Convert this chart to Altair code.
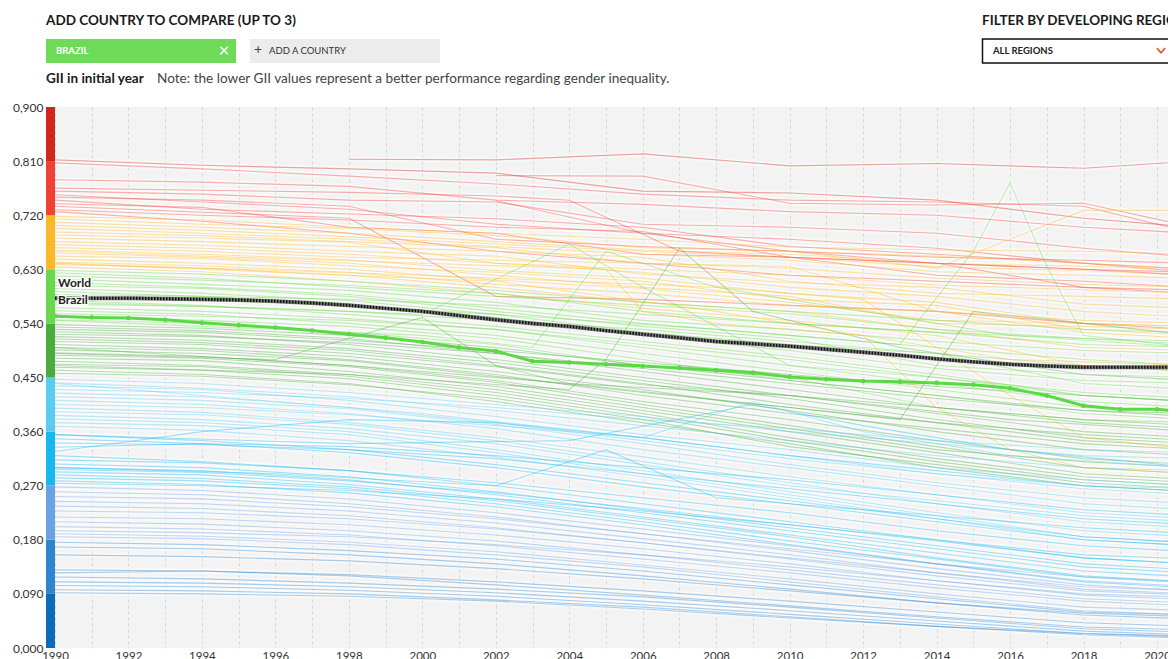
import altair as alt
import pandas as pd

FONT = "Lato"

# ---------------- data ----------------
YEARS = [1990, 1994, 1998, 2002, 2006, 2010, 2014, 2018, 2021]
N = None

RED_SERIES = [
    [0.812, 0.803, 0.797, 0.790, 0.760, 0.757, 0.745, 0.715, 0.700],
    [N, N, 0.813, 0.812, 0.822, 0.802, 0.806, 0.798, 0.810],
    [0.807, 0.797, 0.785, 0.772, 0.755, 0.745, 0.742, 0.735, 0.690],
    [0.779, 0.775, 0.768, 0.745, 0.738, 0.726, 0.720, 0.700, 0.690],
    [0.760, 0.755, 0.745, 0.742, 0.705, 0.700, 0.690, 0.665, 0.650],
    [0.754, 0.742, 0.730, 0.705, 0.690, 0.680, 0.665, 0.640, 0.625],
    [0.750, 0.745, 0.735, 0.680, 0.668, 0.660, 0.650, 0.645, 0.640],
    [0.745, 0.730, 0.722, 0.714, 0.700, 0.668, 0.655, 0.640, 0.630],
    [0.739, 0.733, 0.700, 0.690, 0.655, 0.650, 0.640, 0.600, 0.590],
    [0.729, 0.720, 0.712, 0.700, 0.693, 0.650, 0.620, 0.610, 0.600],
    [0.726, 0.710, 0.690, 0.660, 0.640, 0.620, 0.610, 0.600, 0.595],
    [N, N, N, 0.786, 0.785, 0.740, 0.737, 0.740, 0.700],
    [N, N, N, 0.744, 0.690, 0.660, 0.640, 0.630, 0.625],
    [0.735, 0.725, 0.715, 0.585, 0.580, 0.570, 0.560, 0.540, 0.530],
]
ORANGE_SERIES = [
    [0.718, 0.712, 0.700, 0.690, 0.680, 0.667, 0.662, 0.660, 0.655],
    [0.714, 0.705, 0.698, 0.686, 0.666, 0.660, 0.652, 0.640, 0.630],
    [0.708, 0.700, 0.690, 0.676, 0.662, 0.655, 0.640, 0.635, 0.628],
    [0.703, 0.695, 0.684, 0.672, 0.660, 0.650, 0.634, 0.628, 0.620],
    [0.698, 0.690, 0.680, 0.668, 0.655, 0.645, 0.626, 0.620, 0.615],
    [0.692, 0.686, 0.676, 0.666, 0.640, 0.632, 0.615, 0.605, 0.600],
    [0.687, 0.682, 0.675, 0.640, 0.630, 0.620, 0.604, 0.596, 0.590],
    [0.682, 0.676, 0.668, 0.660, 0.650, 0.610, 0.590, 0.585, 0.580],
    [0.676, 0.670, 0.660, 0.652, 0.622, 0.608, 0.600, 0.572, 0.565],
    [0.671, 0.665, 0.655, 0.640, 0.625, 0.600, 0.585, 0.560, 0.550],
    [0.666, 0.660, 0.650, 0.645, 0.640, 0.635, 0.560, 0.545, 0.540],
    [0.662, 0.655, 0.646, 0.628, 0.615, 0.590, 0.575, 0.540, 0.535],
    [0.657, 0.650, 0.640, 0.620, 0.600, 0.585, 0.540, 0.535, 0.530],
    [0.652, 0.648, 0.636, 0.625, 0.610, 0.580, 0.570, 0.530, 0.520],
    [0.647, 0.640, 0.630, 0.612, 0.598, 0.575, 0.545, 0.540, 0.535],
    [0.642, 0.636, 0.625, 0.605, 0.590, 0.570, 0.560, 0.525, 0.515],
    [0.638, 0.632, 0.620, 0.600, 0.575, 0.560, 0.530, 0.500, 0.495],
    [0.634, 0.626, 0.610, 0.590, 0.565, 0.545, 0.520, 0.470, 0.460],
    [N, N, N, N, N, 0.660, 0.632, 0.728, 0.728],
]
LIGHT_GREEN_SERIES = [
    [0.628, 0.622, 0.610, 0.595, 0.575, 0.560, 0.545, 0.530, 0.525],
    [0.624, 0.615, 0.600, 0.585, 0.570, 0.556, 0.530, 0.515, 0.505],
    [0.619, 0.612, 0.603, 0.590, 0.560, 0.540, 0.525, 0.505, 0.500],
    [0.614, 0.605, 0.595, 0.575, 0.545, 0.530, 0.510, 0.495, 0.490],
    [0.608, 0.600, 0.588, 0.565, 0.540, 0.520, 0.500, 0.480, 0.470],
    [0.603, 0.598, 0.585, 0.560, 0.535, 0.515, 0.470, 0.455, 0.450],
    [0.598, 0.590, 0.578, 0.555, 0.525, 0.505, 0.490, 0.440, 0.430],
    [0.593, 0.585, 0.570, 0.550, 0.520, 0.495, 0.465, 0.445, 0.440],
    [0.588, 0.585, 0.580, 0.570, 0.555, 0.540, 0.525, 0.515, 0.510],
    [0.578, 0.570, 0.555, 0.535, 0.510, 0.485, 0.455, 0.420, 0.410],
    [0.572, 0.568, 0.560, 0.545, 0.530, 0.510, 0.490, 0.470, 0.460],
    [0.566, 0.560, 0.548, 0.530, 0.500, 0.470, 0.440, 0.410, 0.400],
    [0.561, 0.555, 0.540, 0.520, 0.490, 0.460, 0.430, 0.400, 0.395],
    [0.556, 0.552, 0.545, 0.530, 0.505, 0.480, 0.450, 0.425, 0.415],
    [0.551, 0.545, 0.535, 0.515, 0.480, 0.445, 0.420, 0.390, 0.380],
    [0.546, 0.540, 0.525, 0.505, 0.470, 0.450, 0.400, 0.380, 0.375],
]
DARK_GREEN_SERIES = [
    [0.538, 0.532, 0.520, 0.500, 0.470, 0.445, 0.420, 0.395, 0.385],
    [0.534, 0.528, 0.515, 0.490, 0.460, 0.430, 0.400, 0.375, 0.365],
    [0.530, 0.525, 0.512, 0.495, 0.475, 0.455, 0.435, 0.420, 0.410],
    [0.526, 0.520, 0.505, 0.480, 0.450, 0.420, 0.390, 0.360, 0.350],
    [0.522, 0.518, 0.508, 0.490, 0.465, 0.440, 0.415, 0.395, 0.390],
    [0.518, 0.512, 0.498, 0.475, 0.445, 0.415, 0.380, 0.350, 0.340],
    [0.514, 0.508, 0.495, 0.470, 0.440, 0.405, 0.375, 0.345, 0.335],
    [0.510, 0.505, 0.490, 0.468, 0.438, 0.420, 0.400, 0.380, 0.370],
    [0.505, 0.498, 0.485, 0.460, 0.430, 0.395, 0.360, 0.330, 0.320],
    [0.500, 0.495, 0.480, 0.455, 0.420, 0.390, 0.365, 0.340, 0.330],
    [0.496, 0.490, 0.478, 0.452, 0.425, 0.400, 0.375, 0.355, 0.345],
    [0.491, 0.485, 0.470, 0.445, 0.410, 0.380, 0.345, 0.315, 0.305],
    [0.487, 0.482, 0.468, 0.442, 0.405, 0.370, 0.335, 0.300, 0.290],
    [0.482, 0.478, 0.460, 0.435, 0.400, 0.365, 0.330, 0.310, 0.300],
    [0.477, 0.470, 0.455, 0.430, 0.395, 0.360, 0.325, 0.290, 0.280],
    [0.472, 0.468, 0.452, 0.425, 0.390, 0.350, 0.315, 0.285, 0.275],
    [0.467, 0.462, 0.448, 0.420, 0.385, 0.345, 0.310, 0.280, 0.270],
    [0.462, 0.455, 0.440, 0.410, 0.375, 0.340, 0.300, 0.270, 0.260],
    [0.457, 0.452, 0.438, 0.415, 0.380, 0.335, 0.305, 0.275, 0.265],
]
LIGHT_BLUE_SERIES = [
    [0.447, 0.440, 0.425, 0.405, 0.385, 0.360, 0.340, 0.320, 0.315],
    [0.441, 0.432, 0.418, 0.395, 0.370, 0.345, 0.320, 0.300, 0.295],
    [0.436, 0.430, 0.412, 0.385, 0.355, 0.330, 0.300, 0.280, 0.270],
    [0.430, 0.425, 0.415, 0.400, 0.380, 0.365, 0.345, 0.330, 0.325],
    [0.424, 0.418, 0.400, 0.375, 0.345, 0.315, 0.290, 0.265, 0.255],
    [0.418, 0.412, 0.398, 0.372, 0.340, 0.305, 0.275, 0.250, 0.240],
    [0.412, 0.405, 0.390, 0.365, 0.330, 0.300, 0.270, 0.240, 0.230],
    [0.405, 0.400, 0.388, 0.370, 0.350, 0.320, 0.290, 0.270, 0.265],
    [0.399, 0.392, 0.375, 0.350, 0.318, 0.285, 0.255, 0.225, 0.215],
    [0.393, 0.388, 0.372, 0.345, 0.310, 0.275, 0.240, 0.210, 0.200],
    [0.387, 0.380, 0.365, 0.340, 0.305, 0.270, 0.245, 0.220, 0.210],
    [0.381, 0.375, 0.360, 0.330, 0.295, 0.260, 0.225, 0.195, 0.185],
    [0.375, 0.370, 0.355, 0.325, 0.290, 0.255, 0.220, 0.185, 0.175],
    [0.369, 0.362, 0.345, 0.318, 0.285, 0.250, 0.215, 0.180, 0.170],
]
BLUE_SERIES = [
    [0.355, 0.345, 0.330, 0.305, 0.275, 0.245, 0.215, 0.185, 0.175],
    [0.348, 0.340, 0.325, 0.300, 0.268, 0.240, 0.210, 0.180, 0.170],
    [0.341, 0.338, 0.330, 0.315, 0.290, 0.265, 0.240, 0.215, 0.205],
    [0.334, 0.340, 0.335, 0.320, 0.300, 0.280, 0.255, 0.230, 0.220],
    [0.327, 0.360, 0.380, 0.375, 0.350, 0.320, 0.295, 0.270, 0.260],
    [0.320, 0.310, 0.295, 0.270, 0.240, 0.210, 0.180, 0.150, 0.140],
    [0.313, 0.308, 0.295, 0.275, 0.250, 0.225, 0.195, 0.170, 0.160],
    [0.306, 0.300, 0.285, 0.260, 0.230, 0.200, 0.170, 0.140, 0.130],
    [0.300, 0.295, 0.280, 0.255, 0.225, 0.195, 0.165, 0.135, 0.125],
    [0.297, 0.292, 0.278, 0.258, 0.232, 0.205, 0.178, 0.150, 0.140],
    [0.293, 0.288, 0.272, 0.248, 0.218, 0.188, 0.158, 0.128, 0.118],
    [0.288, 0.282, 0.268, 0.245, 0.215, 0.185, 0.150, 0.120, 0.110],
    [0.283, 0.278, 0.265, 0.240, 0.210, 0.178, 0.148, 0.118, 0.108],
    [0.278, 0.272, 0.258, 0.235, 0.205, 0.172, 0.140, 0.110, 0.100],
    [0.274, 0.270, 0.262, 0.248, 0.228, 0.205, 0.180, 0.155, 0.148],
]
PURPLE_BLUE_SERIES = [
    [0.268, 0.262, 0.248, 0.225, 0.198, 0.170, 0.140, 0.112, 0.102],
    [0.260, 0.255, 0.240, 0.218, 0.190, 0.162, 0.132, 0.105, 0.095],
    [0.252, 0.248, 0.235, 0.215, 0.190, 0.165, 0.140, 0.118, 0.110],
    [0.244, 0.240, 0.228, 0.208, 0.182, 0.155, 0.125, 0.098, 0.090],
    [0.236, 0.232, 0.220, 0.200, 0.175, 0.148, 0.120, 0.095, 0.088],
    [0.228, 0.225, 0.215, 0.198, 0.175, 0.150, 0.125, 0.102, 0.095],
    [0.218, 0.215, 0.205, 0.188, 0.165, 0.140, 0.112, 0.088, 0.080],
    [0.210, 0.206, 0.195, 0.178, 0.155, 0.130, 0.105, 0.082, 0.075],
    [0.202, 0.198, 0.188, 0.170, 0.148, 0.125, 0.100, 0.078, 0.070],
    [0.195, 0.192, 0.185, 0.172, 0.155, 0.135, 0.112, 0.090, 0.084],
    [0.190, 0.186, 0.176, 0.160, 0.138, 0.115, 0.090, 0.068, 0.062],
    [0.185, 0.182, 0.172, 0.155, 0.135, 0.110, 0.085, 0.062, 0.055],
]
MID_BLUE_SERIES = [
    [0.176, 0.172, 0.162, 0.148, 0.128, 0.105, 0.082, 0.060, 0.055],
    [0.168, 0.165, 0.155, 0.140, 0.120, 0.098, 0.075, 0.055, 0.048],
    [0.155, 0.152, 0.145, 0.132, 0.115, 0.095, 0.075, 0.058, 0.052],
    [0.130, 0.128, 0.122, 0.110, 0.095, 0.078, 0.060, 0.042, 0.036],
    [0.125, 0.128, 0.120, 0.105, 0.088, 0.070, 0.052, 0.035, 0.030],
    [0.118, 0.115, 0.108, 0.098, 0.085, 0.068, 0.050, 0.032, 0.026],
    [0.110, 0.108, 0.102, 0.092, 0.078, 0.062, 0.045, 0.028, 0.022],
    [0.104, 0.102, 0.096, 0.086, 0.072, 0.056, 0.040, 0.024, 0.018],
    [0.097, 0.095, 0.090, 0.080, 0.068, 0.052, 0.036, 0.022, 0.016],
    [0.092, 0.090, 0.086, 0.078, 0.065, 0.050, 0.036, 0.024, 0.020],
]

# irregular series, each with its own years
SPIKE_YEARS = [1990, 1996, 2002, 2008, 2013, 2015, 2016, 2017, 2018, 2021]
SPIKE_VALUES = [0.585, 0.575, 0.555, 0.530, 0.505, 0.660, 0.774, 0.635, 0.520, 0.500]
JUMP_YEARS = [1990, 1996, 2000, 2004, 2006, 2010, 2014, 2018, 2021]
JUMP_VALUES = [0.575, 0.565, 0.555, 0.672, 0.600, 0.470, 0.450, 0.420, 0.410]
RISE_YEARS = [1990, 1998, 2004, 2005, 2007, 2009, 2013, 2018, 2021]
RISE_VALUES = [0.470, 0.455, 0.430, 0.480, 0.665, 0.560, 0.500, 0.455, 0.445]
DROP_YEARS = [1990, 2000, 2008, 2012, 2016, 2018, 2021]
DROP_VALUES = [0.640, 0.620, 0.600, 0.580, 0.420, 0.350, 0.330]
WAVE_YEARS = [1990, 1998, 2004, 2009, 2012, 2016, 2021]
WAVE_VALUES = [0.355, 0.340, 0.345, 0.405, 0.370, 0.330, 0.300]
K1_YEARS = [1990, 1998, 2002, 2004, 2007, 2010, 2014, 2018, 2021]
K1_VALUES = [0.765, 0.758, 0.752, 0.745, 0.660, 0.650, 0.640, 0.630, 0.620]
K2_YEARS = [1990, 2000, 2005, 2006, 2008, 2012, 2016, 2021]
K2_VALUES = [0.660, 0.640, 0.630, 0.560, 0.540, 0.520, 0.480, 0.470]
K3_YEARS = [1990, 2000, 2003, 2005, 2008, 2012, 2016, 2021]
K3_VALUES = [0.545, 0.520, 0.500, 0.660, 0.600, 0.560, 0.520, 0.500]
K4_YEARS = [1990, 1998, 2004, 2010, 2013, 2015, 2018, 2021]
K4_VALUES = [0.500, 0.470, 0.440, 0.400, 0.380, 0.560, 0.540, 0.520]
K5_YEARS = [1990, 2002, 2008, 2012, 2014, 2016, 2018, 2021]
K5_VALUES = [0.640, 0.610, 0.560, 0.520, 0.400, 0.330, 0.300, 0.290]
K6_YEARS = [1990, 1994, 2000, 2006, 2009, 2012, 2016, 2021]
K6_VALUES = [0.440, 0.420, 0.390, 0.350, 0.410, 0.360, 0.320, 0.300]
K7_YEARS = [1990, 1996, 2002, 2005, 2008, 2012, 2018, 2021]
K7_VALUES = [0.300, 0.290, 0.270, 0.330, 0.250, 0.230, 0.200, 0.190]
K8_YEARS = [1990, 1996, 2000, 2002, 2004, 2010, 2016, 2021]
K8_VALUES = [0.490, 0.480, 0.550, 0.470, 0.440, 0.420, 0.380, 0.360]

WB_YEARS = list(range(1990, 2022))
WORLD = [0.582, 0.582, 0.582, 0.581, 0.580, 0.579, 0.577, 0.574, 0.570, 0.565,
         0.560, 0.553, 0.546, 0.540, 0.535, 0.528, 0.522, 0.516, 0.510, 0.506,
         0.502, 0.497, 0.492, 0.487, 0.481, 0.476, 0.472, 0.469, 0.467, 0.467,
         0.467, 0.467]
BRAZIL = [0.552, 0.550, 0.549, 0.546, 0.541, 0.537, 0.533, 0.528, 0.522, 0.516,
          0.509, 0.500, 0.494, 0.477, 0.475, 0.472, 0.469, 0.466, 0.462, 0.458,
          0.451, 0.447, 0.444, 0.443, 0.441, 0.438, 0.432, 0.420, 0.403, 0.397,
          0.397, 0.392]

BIN_EDGES = [0.0, 0.09, 0.18, 0.27, 0.36, 0.45, 0.54, 0.63, 0.72, 0.81, 0.90]
BIN_COLORS = ["#0b6cb8", "#2e86cf", "#6aa3e3", "#1ab6f0", "#5ccbef",
              "#4caa3f", "#6ad84e", "#fbb82a", "#ef4136", "#d0281c"]
Y_TICKS = [0.0, 0.09, 0.18, 0.27, 0.36, 0.45, 0.54, 0.63, 0.72, 0.81, 0.90]
X_DOMAIN = [1990, 2020.30]

# ---------------- build tables ----------------
def bin_color(v):
    i = min(int(v / 0.09 + 1e-9), 9)
    return BIN_COLORS[i]

rows = []
sid = 0
grid_groups = [RED_SERIES, ORANGE_SERIES, LIGHT_GREEN_SERIES, DARK_GREEN_SERIES,
               LIGHT_BLUE_SERIES, BLUE_SERIES, PURPLE_BLUE_SERIES, MID_BLUE_SERIES]
for group in grid_groups:
    for vals in group:
        first = next(v for v in vals if v is not None)
        col = bin_color(first)
        for yr, v in zip(YEARS, vals):
            if v is not None:
                rows.append({"sid": sid, "year": yr, "gii": v, "col": col})
        sid += 1
irregular = [(SPIKE_YEARS, SPIKE_VALUES), (JUMP_YEARS, JUMP_VALUES),
             (RISE_YEARS, RISE_VALUES), (DROP_YEARS, DROP_VALUES),
             (WAVE_YEARS, WAVE_VALUES), (K1_YEARS, K1_VALUES),
             (K2_YEARS, K2_VALUES), (K3_YEARS, K3_VALUES), (K4_YEARS, K4_VALUES),
             (K5_YEARS, K5_VALUES), (K6_YEARS, K6_VALUES), (K7_YEARS, K7_VALUES),
             (K8_YEARS, K8_VALUES)]
for yrs, vals in irregular:
    col = bin_color(vals[0])
    for yr, v in zip(yrs, vals):
        rows.append({"sid": sid, "year": yr, "gii": v, "col": col})
    sid += 1
countries = pd.DataFrame(rows)

world = pd.DataFrame({"year": WB_YEARS, "gii": WORLD})
brazil = pd.DataFrame({"year": WB_YEARS, "gii": BRAZIL})
bands = pd.DataFrame({"lo": BIN_EDGES[:-1], "hi": BIN_EDGES[1:], "col": BIN_COLORS})

# ---------------- encodings ----------------
x_axis = alt.Axis(values=list(range(1990, 2021)),
                  labelExpr="datum.value % 2 == 0 ? datum.value : ''",
                  grid=True, gridDash=[3, 3], gridColor="#d6d6d6", gridWidth=1,
                  ticks=False, domain=False, labelFlush=False, labelPadding=2,
                  labelFontSize=11.5, labelColor="#333", labelFont=FONT, title=None)
y_axis = alt.Axis(values=Y_TICKS,
                  labelExpr="replace(format(datum.value, '.3f'), '.', ',')",
                  grid=False, ticks=False, domain=False, labelFlush=False,
                  labelPadding=12, labelFontSize=12, labelColor="#333",
                  labelFont=FONT, title=None)

def X(field="year"):
    return alt.X(f"{field}:Q", scale=alt.Scale(domain=X_DOMAIN, nice=False, zero=False), axis=x_axis)

def Y(field="gii"):
    return alt.Y(f"{field}:Q", scale=alt.Scale(domain=[0, 0.9], nice=False), axis=y_axis)

halo = alt.Chart(countries).mark_line(clip=True, color="white", strokeWidth=5, opacity=0.45).encode(
    x=X(), y=Y(), detail="sid:N")
lines = alt.Chart(countries).mark_line(clip=True, strokeWidth=1.1, opacity=0.4).encode(
    x=X(), y=Y(), detail="sid:N", color=alt.Color("col:N", scale=None))

world_base = alt.Chart(world).mark_line(clip=True, color="#666", strokeWidth=4, opacity=0.85).encode(x=X(), y=Y())
world_dots = alt.Chart(world).mark_line(clip=True, color="#111", strokeWidth=3, strokeDash=[1.5, 1.5]).encode(x=X(), y=Y())
brazil_line = alt.Chart(brazil).mark_line(clip=True, color="#5ad944", strokeWidth=3).encode(x=X(), y=Y())
brazil_pts = alt.Chart(brazil).mark_point(clip=True, filled=True, color="#5ad944", size=22, opacity=1).encode(x=X(), y=Y())

def series_label(name, year, value, dy):
    d = pd.DataFrame({"year": [year], "gii": [value], "name": [name]})
    under = alt.Chart(d).mark_text(align="left", baseline="middle", dx=3, dy=dy, font=FONT,
                                   fontSize=12, fontWeight="bold", stroke="white",
                                   strokeWidth=3, strokeOpacity=0.85, color="white").encode(
        x=X(), y=Y(), text="name:N")
    over = alt.Chart(d).mark_text(align="left", baseline="middle", dx=3, dy=dy, font=FONT,
                                  fontSize=12, fontWeight="bold", color="#222").encode(
        x=X(), y=Y(), text="name:N")
    return [under, over]

label_layers = series_label("World", WB_YEARS[0], WORLD[0], -15) + \
               series_label("Brazil", WB_YEARS[0], BRAZIL[0], -16)

colour_bar = alt.Chart(bands).mark_rect().encode(
    y=Y("lo"), y2="hi:Q", x=alt.value(-9), x2=alt.value(0),
    color=alt.Color("col:N", scale=None))

# ---------------- header widgets ----------------
def txt(s, x, y, size=12, weight="normal", color="#222", align="left"):
    return alt.Chart(pd.DataFrame({"t": [s]})).mark_text(
        align=align, baseline="middle", font=FONT, fontSize=size, fontWeight=weight,
        color=color).encode(text="t:N", x=alt.value(x), y=alt.value(y))

def box(x1, x2, y1, y2, fill, stroke=None, sw=0):
    kw = dict(fill=fill)
    if stroke:
        kw.update(stroke=stroke, strokeWidth=sw)
    return alt.Chart(pd.DataFrame({"a": [0]})).mark_rect(**kw).encode(
        x=alt.value(x1), x2=alt.value(x2), y=alt.value(y1), y2=alt.value(y2))

def seg(x1, y1, x2, y2, color):
    return alt.Chart(pd.DataFrame({"a": [0]})).mark_rule(color=color, strokeWidth=1.5).encode(
        x=alt.value(x1), x2=alt.value(x2), y=alt.value(y1), y2=alt.value(y2))

header = [
    txt("ADD COUNTRY TO COMPARE (UP TO 3)", -9, -86, 13.5, "bold", "#1a1a1a"),
    box(-9, 181, -68, -44, "#6ddb58"),
    txt("BRAZIL", 1, -56, 9.5, "bold", "white"),
    txt("×", 169, -56, 19, "normal", "white", "center"),
    box(195, 385, -68, -44, "#ececec"),
    txt("+", 203, -57, 14, "normal", "#444", "center"),
    txt("ADD A COUNTRY", 214, -56, 9.5, "normal", "#333"),
    txt("GII in initial year", -9, -28, 13.5, "bold", "#1a1a1a"),
    txt("Note: the lower GII values represent a better performance regarding gender inequality.",
        102, -28, 13.6, "normal", "#444"),
    txt("FILTER BY DEVELOPING REGION", 927, -86, 13.5, "bold", "#1a1a1a"),
    box(927.5, 1125, -68, -44, "white", "#111", 1.5),
    txt("ALL REGIONS", 938, -56, 9.5, "bold", "#222"),
    seg(1102, -59, 1106, -54, "#e8412e"),
    seg(1106, -54, 1110, -59, "#e8412e"),
]

chart = alt.layer(
    halo, lines, world_base, world_dots, brazil_line, brazil_pts,
    *label_layers, colour_bar, *header
).properties(
    width=1113, height=541,
    padding={"left": 47, "top": 99, "right": 0, "bottom": 12},
    autosize=alt.AutoSizeParams(type="none"),
    background="white",
).configure_view(fill="#f3f3f3", stroke=None)

chart.save("out.html", embed_options={"renderer": "svg", "actions": False})
